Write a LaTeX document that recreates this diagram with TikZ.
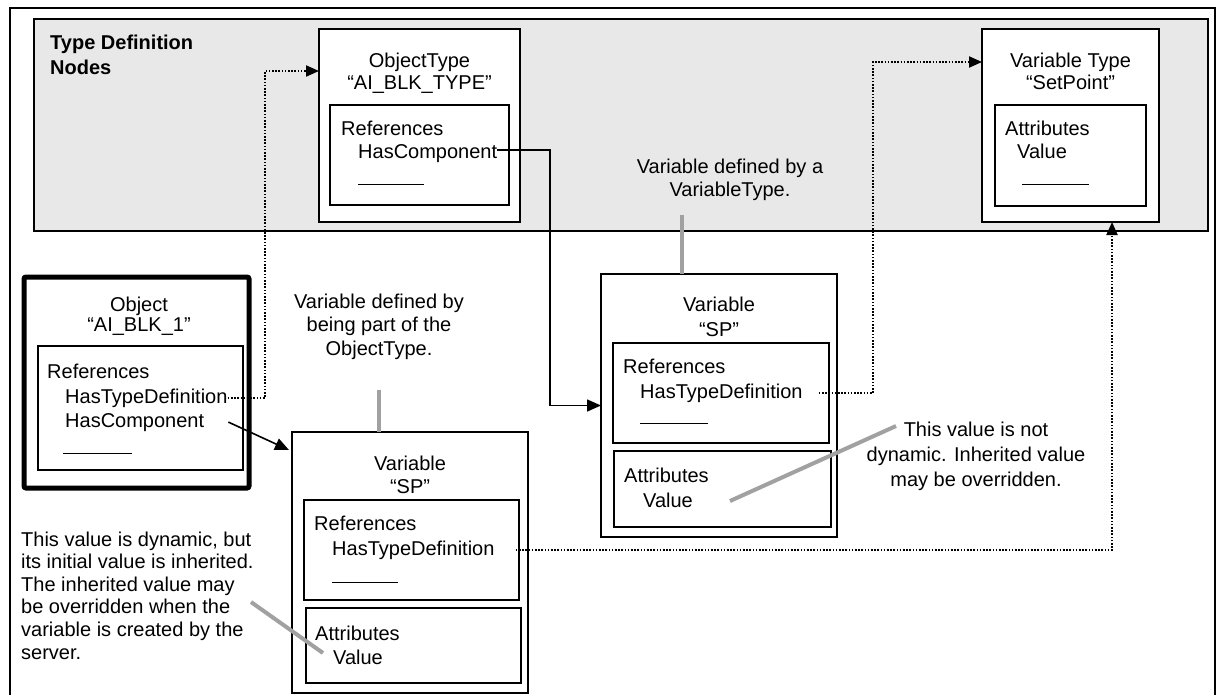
\documentclass[tikz,border=0pt]{standalone}
\usepackage{fontspec}
\setmainfont{Liberation Sans}
\usetikzlibrary{arrows.meta,calc}
\begin{document}
\begin{tikzpicture}[x=1pt,y=-1pt,
  box/.style={draw, line width=1.5pt, fill=white, inner sep=0pt, outer sep=0pt, anchor=north west},
  t/.style={inner sep=0pt, anchor=base west, font=\fontsize{20}{23}\selectfont},
  tc/.style={inner sep=0pt, anchor=base, font=\fontsize{20}{23}\selectfont},
  note/.style={inner sep=0pt, anchor=north, align=center, font=\fontsize{20}{#1}\selectfont},
  uline/.style={line width=1pt},
  dotline/.style={line width=2pt, dash pattern=on 1.6pt off 1.6pt, -{Triangle[length=13pt,width=11pt]}},
  solarrow/.style={line width=1.6pt, -{Triangle[length=14pt,width=12pt]}},
  callout/.style={line width=4pt, draw=black!37}
]
\useasboundingbox (0,0) rectangle (1217,695);
% outer frame
\draw[line width=2pt] (9.5,8) rectangle (1214.5,705);

% type definition area
\node[box, fill=black!9, line width=1.3pt, minimum width=1174pt, minimum height=212pt] (typearea) at (34,19) {};
\node[t, font={\fontsize{20}{25}\selectfont\bfseries}] (tdn1) at (50,50) {Type Definition};
\node[t, font={\fontsize{20}{25}\selectfont\bfseries}] (tdn2) at (50,75) {Nodes};

% ObjectType
\node[box, minimum width=201pt, minimum height=193pt] (objtype) at (319,29) {};
\node[tc] (ot1) at (419.5,68) {ObjectType};
\node[tc] (ot2) at (419.5,90) {“AI\_BLK\_TYPE”};
\node[box, minimum width=179pt, minimum height=100pt] (otrefs) at (330,105) {};
\node[t] (otr) at (341,136) {References};
\node[t] (othc) at (358,159) {HasComponent};
\draw[uline] (358,185) -- (424,185);

% Variable Type
\node[box, minimum width=177pt, minimum height=193pt] (vartype) at (982,29) {};
\node[tc] (vt1) at (1070.5,68) {Variable Type};
\node[tc] (vt2) at (1070.5,90) {“SetPoint”};
\node[box, minimum width=151pt, minimum height=101pt] (vtattr) at (995,105) {};
\node[t] (vta) at (1005,136) {Attributes};
\node[t] (vtv) at (1017,159) {Value};
\draw[uline] (1022,185) -- (1089,185);

% Object
\node[box, line width=5pt, rounded corners=2pt, minimum width=225pt, minimum height=211pt] (obj) at (24,277) {};
\node[tc] (o1) at (139,311) {Object};
\node[tc] (o2) at (139,331) {“AI\_BLK\_1”};
\node[box, minimum width=205pt, minimum height=124pt] (orefs) at (38,346) {};
\node[t] (or) at (47,378) {References};
\node[t] (otd) at (65,403) {HasTypeDefinition};
\node[t] (ohc) at (65,427) {HasComponent};
\draw[uline] (63,453) -- (132,453);

% Variable SP (upper)
\node[box, minimum width=236pt, minimum height=263pt] (var1) at (601,274) {};
\node[tc] (v1t1) at (719,311) {Variable};
\node[tc] (v1t2) at (719,336) {“SP”};
\node[box, minimum width=216pt, minimum height=100pt] (v1refs) at (613,343) {};
\node[t] (v1r) at (623,373) {References};
\node[t] (v1td) at (640,398) {HasTypeDefinition};
\draw[uline] (640,423) -- (708,423);
\node[box, minimum width=217pt, minimum height=76pt] (v1attr) at (614,451) {};
\node[t] (v1a) at (624,482) {Attributes};
\node[t] (v1v) at (643,507) {Value};

% Variable SP (lower)
\node[box, minimum width=236pt, minimum height=261pt] (var2) at (292,432) {};
\node[tc] (v2t1) at (410,470) {Variable};
\node[tc] (v2t2) at (410,493) {“SP”};
\node[box, minimum width=215pt, minimum height=100pt] (v2refs) at (304,500) {};
\node[t] (v2r) at (314,530) {References};
\node[t] (v2td) at (332,555) {HasTypeDefinition};
\draw[uline] (332,582) -- (398,582);
\node[box, minimum width=215pt, minimum height=75pt] (v2attr) at (306,608) {};
\node[t] (v2a) at (315,640) {Attributes};
\node[t] (v2v) at (333,664) {Value};

% notes
\node[note=23] (vtnote) at (730,158.5) {Variable defined by a\\VariableType.};
\node[note=23.5] (otnote) at (379,293.5) {Variable defined by\\being part of the\\ObjectType.};
\node[note=25] (ndnote) at (976,421.5) {This value is not\\dynamic. Inherited value\\may be overridden.};
\node[note=22.6, align=left, anchor=north west] (dnote) at (21,531.5) {This value is dynamic, but\\its initial value is inherited.\\The inherited value may\\be overridden when the\\variable is created by the\\server.};

% callout lines
\coordinate (n1a) at (896,426);
\coordinate (n1b) at (730,501);
\coordinate (n2a) at (251,602);
\coordinate (n2b) at (323,653);
\draw[callout] ($(var1.north west)+(81,-59)$) -- ($(var1.north west)+(81,0)$);
\draw[callout] ($(var2.north west)+(87,-42)$) -- ($(var2.north west)+(87,0)$);
\draw[callout] (n1a) -- (n1b);
\draw[callout] (n2a) -- (n2b);

% connectors
\coordinate (k1) at (265,71);
\draw[dotline] (otd.east) -| (k1) -- (k1 -| objtype.west);
\coordinate (k2) at (873,62);
\draw[dotline] ($(v1td.east)+(16,0)$) -| (k2) -- (k2 -| vartype.west);
\coordinate (k3) at ($(vartype.south)+(41.5,0)$);
\draw[dotline] ($(v2td.east)+(21,0)$) -| (k3);
\draw[solarrow] ($(othc.east)+(0,-4)$) -| ($(var1.west)+(-51,0)$) -- (var1.west);
\draw[solarrow] ($(ohc.east)+(24,0)$) -- ($(var2.north west)+(-3,18)$);
\end{tikzpicture}
\end{document}
